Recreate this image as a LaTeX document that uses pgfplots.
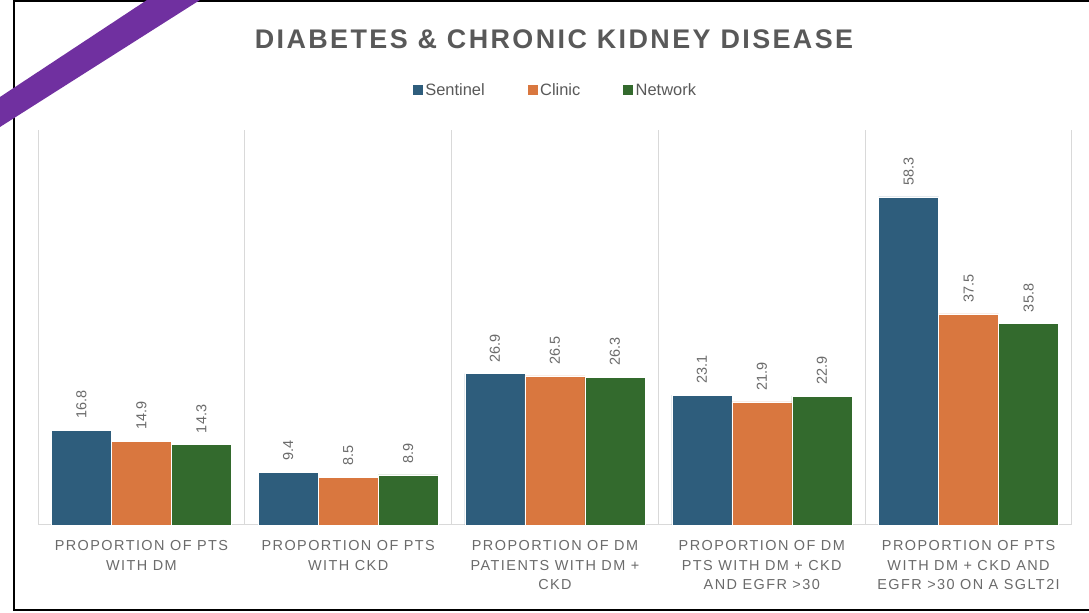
\documentclass[border=0pt]{standalone}
\usepackage{fontspec}
\setmainfont{Liberation Sans}
\newfontfamily\titlefont[LetterSpace=9]{Liberation Sans}
\newfontfamily\catfont[LetterSpace=10]{Liberation Sans}
\usepackage{pgfplots}
\pgfplotsset{compat=1.18}

\definecolor{sentinel}{HTML}{2E5D7C}
\definecolor{clinic}{HTML}{D9773F}
\definecolor{network}{HTML}{336A2D}
\definecolor{frame}{HTML}{D9D9D9}
\definecolor{txt}{HTML}{595959}
\definecolor{lbl}{HTML}{6B6B6B}
\definecolor{ribbon}{HTML}{7030A0}

\begin{document}
\begin{tikzpicture}[x=1bp,y=1bp]
% page
\path[use as bounding box, fill=white] (0,0) rectangle (1089,613);
\draw[black, line width=1.6bp] (1089,612) -- (14,612) -- (14,3) -- (1089,3);

\begin{axis}[
  at={(38bp,88bp)}, anchor=south west,
  scale only axis,
  width=1034bp, height=395bp,
  ybar=0pt, bar width=60bp,
  xmin=-0.5, xmax=4.5,
  ymin=0, ymax=70.2,
  axis x line=bottom, axis y line=none,
  axis line style={draw=frame, line width=1bp, -},
  xtick={0,1,2,3,4},
  major tick length=0pt,
  xticklabels={
    {PROPORTION OF PTS\\WITH DM},
    {PROPORTION OF PTS\\WITH CKD},
    {PROPORTION OF DM\\PATIENTS WITH DM +\\CKD},
    {PROPORTION OF DM\\PTS WITH DM + CKD\\AND EGFR >30},
    {PROPORTION OF PTS\\WITH DM + CKD AND\\EGFR >30 ON A SGLT2I}},
  xticklabel style={align=center, text=lbl,
    font=\catfont\fontsize{14.5}{19.5}\selectfont, yshift=-12bp},
  extra x ticks={-0.5,0.5,1.5,2.5,3.5,4.5},
  extra x tick labels={},
  extra x tick style={grid=major, major grid style={draw=frame, line width=1bp}},
  ytick=\empty,
  clip=false,
  nodes near coords,
  every node near coord/.append style={rotate=90, anchor=west, xshift=8bp,
    text=lbl, font=\fontsize{14.5}{16}\selectfont},
  /pgf/number format/.cd, fixed, fixed zerofill, precision=1, assume math mode=true,
  /pgfplots/.cd,
  legend columns=3,
  legend style={at={(rel axis cs:0.5,1)}, anchor=center, yshift=40bp,
    draw=none, fill=none, font=\fontsize{16.5}{18}\selectfont, text=txt,
    /tikz/every even column/.append style={column sep=40bp}},
  legend image code/.code={\fill[#1] (0bp,-5.5bp) rectangle (11bp,5.5bp);},
]
\addplot[fill=sentinel, draw=white, line width=0.4bp] coordinates {(0,16.8) (1,9.4) (2,26.9) (3,23.1) (4,58.3)};
\addplot[fill=clinic, draw=white, line width=0.4bp] coordinates {(0,14.9) (1,8.5) (2,26.5) (3,21.9) (4,37.5)};
\addplot[fill=network, draw=white, line width=0.4bp] coordinates {(0,14.3) (1,8.9) (2,26.3) (3,22.9) (4,35.8)};
\legend{Sentinel, Clinic, Network}
\end{axis}

% title
\node[text=txt, font=\titlefont\bfseries\fontsize{27}{30}\selectfont] at (554,574) {DIABETES \& CHRONIC KIDNEY DISEASE};

% corner ribbon
\fill[ribbon] (0,516) -- (147,613) -- (200,613) -- (0,486) -- cycle;
\end{tikzpicture}
\end{document}
